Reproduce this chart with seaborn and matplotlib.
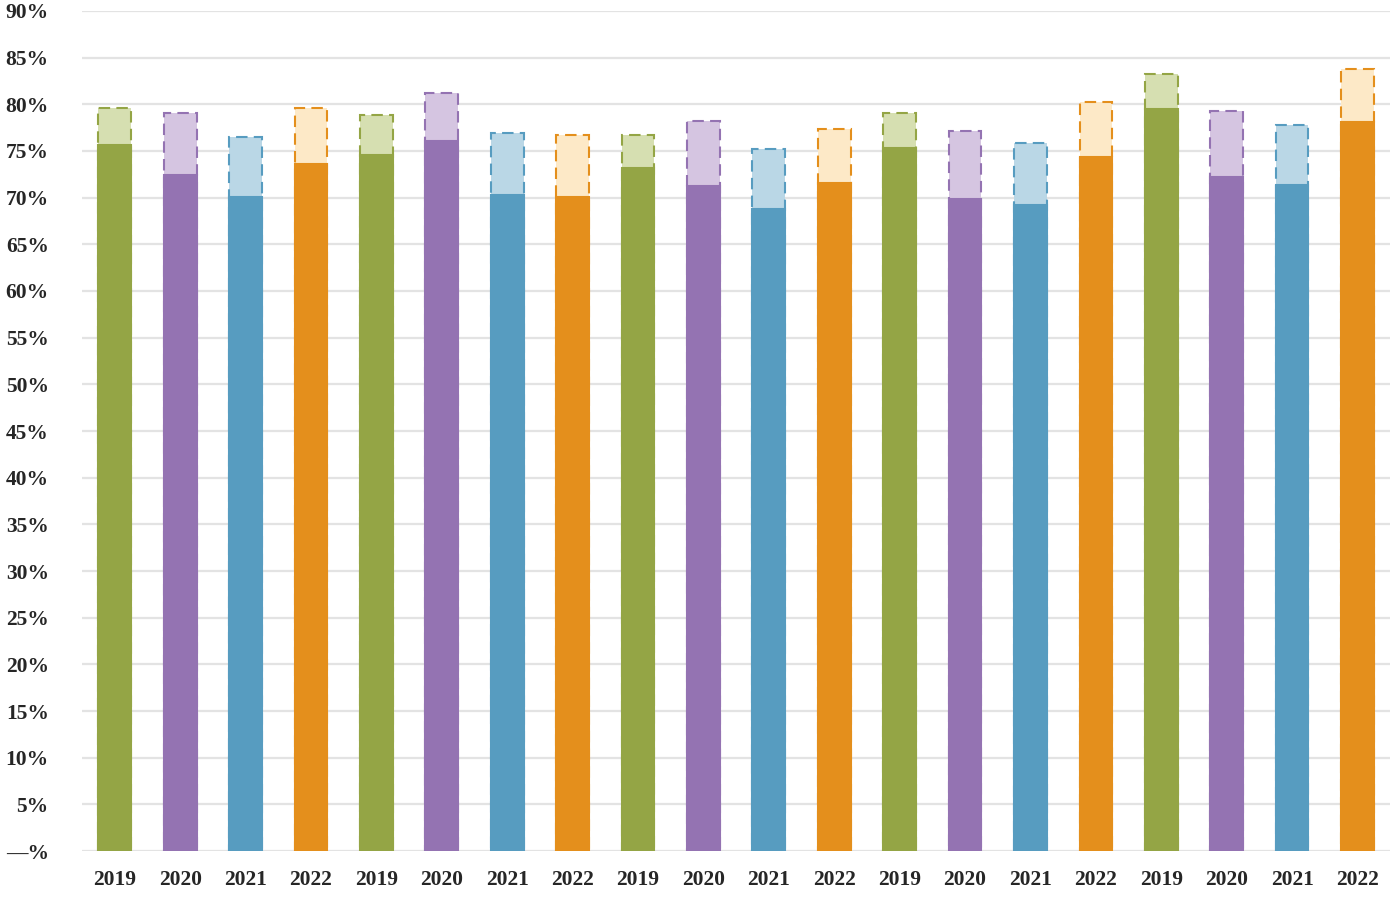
import matplotlib
matplotlib.use("Agg")
import matplotlib.pyplot as plt
import seaborn as sns
import pandas as pd
from matplotlib.ticker import FuncFormatter, MultipleLocator

years = ["2019", "2020", "2021", "2022"] * 5
solid_vals = [75.6, 72.4, 70.1, 73.6, 74.6, 76.1, 70.3, 70.1, 73.2, 71.3,
              68.8, 71.6, 75.3, 69.9, 69.2, 74.4, 79.5, 72.2, 71.4, 78.1]
total_vals = [79.6, 79.1, 76.5, 79.6, 78.9, 81.2, 76.9, 76.7, 76.7, 78.2,
              75.2, 77.4, 79.1, 77.1, 75.9, 80.2, 83.2, 79.3, 77.8, 83.8]

dark = {"2019": "#94A545", "2020": "#9473B2", "2021": "#579CC0", "2022": "#E48F1C"}
light = {"2019": "#D6DFB1", "2020": "#D5C5E1", "2021": "#BAD7E6", "2022": "#FDE9C7"}

df = pd.DataFrame({
    "pos": [str(i) for i in range(len(years))],
    "year": years,
    "solid": solid_vals,
    "total": total_vals,
})
order = list(df["pos"])

sns.set_theme(style="white")
plt.rcParams["font.family"] = ["Liberation Serif", "DejaVu Serif"]
plt.rcParams["font.weight"] = "bold"

fig = plt.figure(figsize=(14, 9), dpi=100)
ax = fig.add_axes([0.0586, 0.0544, 0.9344, 0.9334])

sns.barplot(data=df, x="pos", y="total", hue="year", order=order,
            palette=light, saturation=1, dodge=False, width=0.5, legend=False,
            linewidth=1.5, linestyle=(0, (5.5, 3)), ax=ax, zorder=2)
n_light = len(ax.patches)
for p in ax.patches[:n_light]:
    idx = int(round(p.get_x() + p.get_width() / 2))
    p.set_edgecolor(dark[years[idx]])

sns.barplot(data=df, x="pos", y="solid", hue="year", order=order,
            palette=dark, saturation=1, dodge=False, width=0.5, legend=False,
            linewidth=1.5, ax=ax, zorder=3)
for p in ax.patches[n_light:]:
    idx = int(round(p.get_x() + p.get_width() / 2))
    p.set_edgecolor(dark[years[idx]])
    p.set_linestyle("-")

ax.set_xlim(-0.5, len(years) - 0.5)
ax.set_ylim(0, 90)
ax.yaxis.set_major_locator(MultipleLocator(5))
ax.yaxis.set_major_formatter(FuncFormatter(lambda v, _: "—%" if abs(v) < 1e-9 else f"{int(round(v))}%"))
ax.set_xticks(range(len(years)))
ax.set_xticklabels(years)
ax.grid(axis="y", color="#E3E3E3", linewidth=1.6, zorder=0)
ax.set_axisbelow(True)
for s in ax.spines.values():
    s.set_visible(False)
ax.set_xlabel("")
ax.set_ylabel("")
ax.tick_params(axis="both", length=0, labelsize=15.5)
ax.tick_params(axis="x", pad=14)
ax.tick_params(axis="y", pad=24)
for lab in ax.get_yticklabels():
    lab.set_horizontalalignment("right")
    lab.set_fontweight("bold")
for lab in ax.get_xticklabels():
    lab.set_fontweight("bold")

fig.savefig("out.png", dpi=100)
